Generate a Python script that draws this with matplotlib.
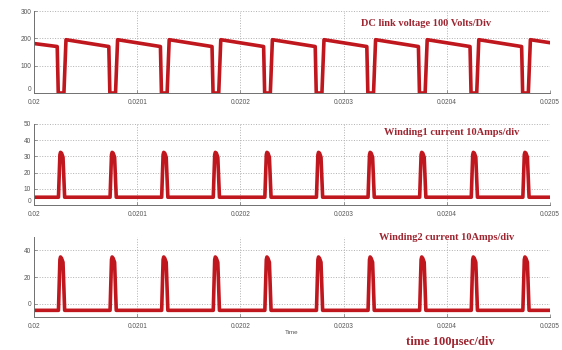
import matplotlib
matplotlib.use("Agg")
import matplotlib.pyplot as plt
import numpy as np

# ---- data ----------------------------------------------------------
# switching instants (start of each DC-link dip), seconds
pulse_starts = [0.0200225, 0.0200725, 0.0201225, 0.0201725, 0.0202225,
                0.0202725, 0.0203225, 0.0203725, 0.0204225, 0.0204725]

# DC link voltage, one dip (offsets in microseconds after pulse start)
vdc_offsets_us = [0.0, 1.0, 6.5, 8.5]
vdc_values = [170, 0, 0, 195]
vdc_start, vdc_end = 181, 184

# winding currents, one pulse (offsets in microseconds after pulse start)
cur_offsets_us = [1.2, 2.6, 3.2, 4.2, 5.6, 7.2]
i1_values = [4.8, 31, 32.5, 32, 29.5, 4.8]
i2_values = [-5, 33, 35, 34, 31, -5]
i1_base, i2_base = 4.8, -5

t_begin, t_end = 0.0200, 0.0205
xticks = [0.0200, 0.0201, 0.0202, 0.0203, 0.0204, 0.0205]
xticklabels = ["0.02", "0.0201", "0.0202", "0.0203", "0.0204", "0.0205"]

panel_titles = ["DC link voltage 100 Volts/Div",
                "Winding1 current 10Amps/div",
                "Winding2 current 10Amps/div"]


def build_trace(offsets_us, values, first, last):
    """string the per-pulse shape together at every switching instant"""
    t, y = [t_begin], [first]
    for ts in pulse_starts:
        for off, val in zip(offsets_us, values):
            t.append(ts + off * 1e-6)
            y.append(val)
    t.append(t_end)
    y.append(last)
    return np.array(t), np.array(y)


t_v, v = build_trace(vdc_offsets_us, vdc_values, vdc_start, vdc_end)
t_1, i1 = build_trace(cur_offsets_us, i1_values, i1_base, i1_base)
t_2, i2 = build_trace(cur_offsets_us, i2_values, i2_base, i2_base)

W, H = 562, 350
fig = plt.figure(figsize=(W / 100, H / 100), dpi=100)
fig.patch.set_facecolor("white")

# axes boxes in pixels: (left, top, right, bottom)
boxes = [(34, 11, 550, 93), (34, 124, 550, 205), (34, 237, 550, 317)]
ylims = [(0, 300), (0, 50), (-10, 50)]
yticks = [[0, 100, 200, 300], [0, 10, 20, 30, 40, 50], [0, 20, 40]]
traces = [(t_v, v), (t_1, i1), (t_2, i2)]

red = "#c0161e"
txt_red = "#9e2530"

for (l, tp, r, b), ylim, yt, (tt, yy) in zip(boxes, ylims, yticks, traces):
    ax = fig.add_axes([l / W, 1 - b / H, (r - l) / W, (b - tp) / H])
    ax.plot(tt, yy, color=red, lw=2.6, solid_joinstyle="round")
    ax.set_xlim(t_begin, t_end)
    ax.set_ylim(*ylim)
    ax.set_xticks(xticks)
    ax.set_xticklabels(xticklabels)
    ax.set_yticks(yt)
    ax.grid(True, ls=":", color="#b0b0b0", lw=0.7)
    for s in ("top", "right"):
        ax.spines[s].set_visible(False)
    for s in ("left", "bottom"):
        ax.spines[s].set_color("#707070")
        ax.spines[s].set_linewidth(0.7)
    ax.tick_params(direction="in", length=2.5, width=0.5, colors="#707070",
                   labelsize=4.7, labelcolor="#555555", pad=2)
    ax.tick_params(axis="x", pad=4)
    for lab in ax.get_xticklabels() + ax.get_yticklabels():
        lab.set_family("Liberation Sans")
    # lift a "0" sitting on the x axis so it clears "0.02"
    if yt[0] == ylim[0]:
        ax.get_yticklabels()[0].set_va("bottom")

# annotations as on the original screenshot
title_pos = [(426, 23), (452, 132), (447, 238)]
for s, (x, y) in zip(panel_titles, title_pos):
    fig.text(x / W, 1 - y / H, s, ha="center", va="center",
             family="Liberation Serif", weight="bold", fontsize=7.5,
             color=txt_red)

fig.text(292 / W, 1 - 333 / H, "Time", ha="center", va="center",
         family="Liberation Sans", fontsize=4.5, color="#555555")
fig.text(450 / W, 1 - 342 / H, "time 100\u00b5sec/div", ha="center",
         va="center", family="Liberation Serif", weight="bold",
         fontsize=9, color=txt_red)

fig.savefig("out.png", dpi=100, facecolor="white")
